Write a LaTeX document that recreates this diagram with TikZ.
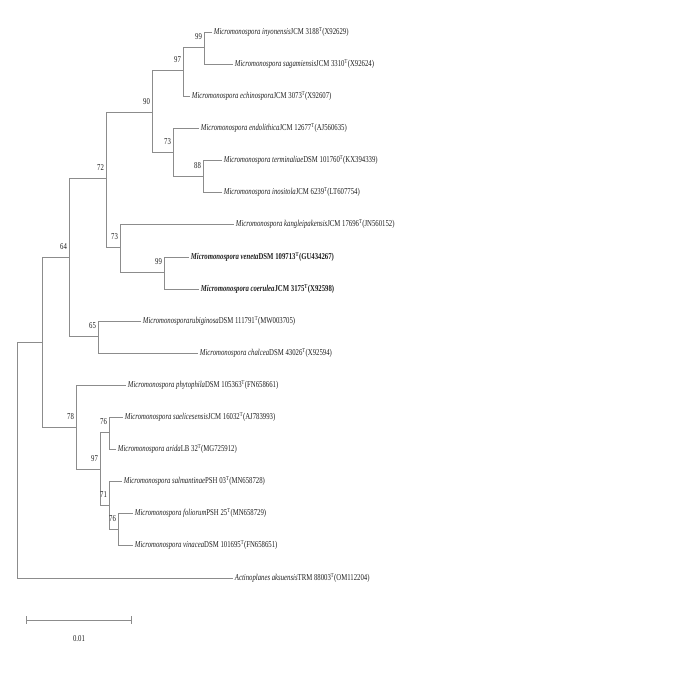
\documentclass[tikz,border=0pt]{standalone}
\usepackage{fontspec}
\setmainfont[FakeStretch=0.75]{Liberation Serif}
\definecolor{branch}{gray}{0.55}
\definecolor{lbl}{gray}{0.12}
\newcommand\mic[1]{\textit{Micromonospora #1}}
\newcommand\Tstr{\textsuperscript{T}}

\begin{document}
\begin{tikzpicture}
[-,line width=0.8pt,draw=branch,x=1pt,y=-1pt,%
  leaf/.style={anchor=west,inner sep=1.5pt,text=lbl,font=\fontsize{9}{10}\selectfont},%
  boot/.style={inner sep=0pt,text=lbl,font=\fontsize{9}{10}\selectfont}]
\useasboundingbox (0,0) rectangle (685,674);
% internal nodes
\coordinate (r) at (17,460);
\coordinate (n1) at (42,342);
\coordinate (n64) at (69,257);
\coordinate (n72) at (106,178);
\coordinate (n90) at (152,112);
\coordinate (n97a) at (183,70);
\coordinate (n99a) at (204,47);
\coordinate (n73a) at (173,152);
\coordinate (n88) at (203,176);
\coordinate (n73b) at (120,247);
\coordinate (n99b) at (164,272);
\coordinate (n65) at (98,336);
\coordinate (n78) at (76,427);
\coordinate (n97b) at (100,469);
\coordinate (n76a) at (109,432);
\coordinate (n71) at (109,505);
\coordinate (n76b) at (118,529);
% leaves
\node[leaf] (inyo) at (212,32) {\mic{inyonensis}JCM 3188\Tstr(X92629)};
\node[leaf] (saga) at (233,64) {\mic{sagamiensis}JCM 3310\Tstr(X92624)};
\node[leaf] (echi) at (190,96) {\mic{echinospora}JCM 3073\Tstr(X92607)};
\node[leaf] (endo) at (199,128) {\mic{endolithica}JCM 12677\Tstr(AJ560635)};
\node[leaf] (term) at (222,160) {\mic{terminaliae}DSM 101760\Tstr(KX394339)};
\node[leaf] (inos) at (222,192) {\mic{inositola}JCM 6239\Tstr(LT607754)};
\node[leaf] (kang) at (234,224) {\mic{kangleipakensis}JCM 17696\Tstr(JN560152)};
\node[leaf] (vene) at (189,257) {\bfseries\mic{veneta}DSM 109713\Tstr(GU434267)};
\node[leaf] (coer) at (199,289) {\bfseries\mic{coerulea}JCM 3175\Tstr(X92598)};
\node[leaf] (rubi) at (141,321) {\textit{Micromonosporarubiginosa}DSM 111791\Tstr(MW003705)};
\node[leaf] (chal) at (198,353) {\mic{chalcea}DSM 43026\Tstr(X92594)};
\node[leaf] (phyt) at (126,385) {\mic{phytophila}DSM 105363\Tstr(FN658661)};
\node[leaf] (sael) at (123,417) {\mic{saelicesensis}JCM 16032\Tstr(AJ783993)};
\node[leaf] (arid) at (116,449) {\mic{arida}LB 32\Tstr(MG725912)};
\node[leaf] (salm) at (122,481) {\mic{salmantinae}PSH 03\Tstr(MN658728)};
\node[leaf] (foli) at (133,513) {\mic{foliorum}PSH 25\Tstr(MN658729)};
\node[leaf] (vina) at (133,545) {\mic{vinacea}DSM 101695\Tstr(FN658651)};
\node[leaf] (act) at (233,578) {\textit{Actinoplanes aksuensis}TRM 88003\Tstr(OM112204)};
% branches
\draw (r) |- (n1);
\draw (r) |- (act.west);
\draw (n1) |- (n64);
\draw (n1) |- (n78);
\draw (n64) |- (n72);
\draw (n64) |- (n65);
\draw (n72) |- (n90);
\draw (n72) |- (n73b);
\draw (n90) |- (n97a);
\draw (n90) |- (n73a);
\draw (n97a) |- (n99a);
\draw (n97a) |- (echi.west);
\draw (n99a) |- (inyo.west);
\draw (n99a) |- (saga.west);
\draw (n73a) |- (endo.west);
\draw (n73a) |- (n88);
\draw (n88) |- (term.west);
\draw (n88) |- (inos.west);
\draw (n73b) |- (kang.west);
\draw (n73b) |- (n99b);
\draw (n99b) |- (vene.west);
\draw (n99b) |- (coer.west);
\draw (n65) |- (rubi.west);
\draw (n65) |- (chal.west);
\draw (n78) |- (phyt.west);
\draw (n78) |- (n97b);
\draw (n97b) |- (n76a);
\draw (n97b) |- (n71);
\draw (n76a) |- (sael.west);
\draw (n76a) |- (arid.west);
\draw (n71) |- (salm.west);
\draw (n71) |- (n76b);
\draw (n76b) |- (foli.west);
\draw (n76b) |- (vina.west);
% bootstrap values
\node[boot] at ([shift={(-5.5,-10.5)}]n64) {64};
\node[boot] at ([shift={(-5.5,-10.5)}]n72) {72};
\node[boot] at ([shift={(-5.5,-10.5)}]n90) {90};
\node[boot] at ([shift={(-5.5,-10.5)}]n97a) {97};
\node[boot] at ([shift={(-5.5,-10.5)}]n99a) {99};
\node[boot] at ([shift={(-5.5,-10.5)}]n73a) {73};
\node[boot] at ([shift={(-5.5,-10.5)}]n88) {88};
\node[boot] at ([shift={(-5.5,-10.5)}]n73b) {73};
\node[boot] at ([shift={(-5.5,-10.5)}]n99b) {99};
\node[boot] at ([shift={(-5.5,-10.5)}]n65) {65};
\node[boot] at ([shift={(-5.5,-10.5)}]n78) {78};
\node[boot] at ([shift={(-5.5,-10.5)}]n97b) {97};
\node[boot] at ([shift={(-5.5,-10.5)}]n76a) {76};
\node[boot] at ([shift={(-5.5,-10.5)}]n71) {71};
\node[boot] at ([shift={(-5.5,-10.5)}]n76b) {76};
% scale bar
\coordinate (sbl) at (26,620);
\coordinate (sbr) at (132,620);
\draw[|-|] (sbl) -- (sbr);
\node[boot] (sblab) at (79,639) {0.01};
\end{tikzpicture}
\end{document}
